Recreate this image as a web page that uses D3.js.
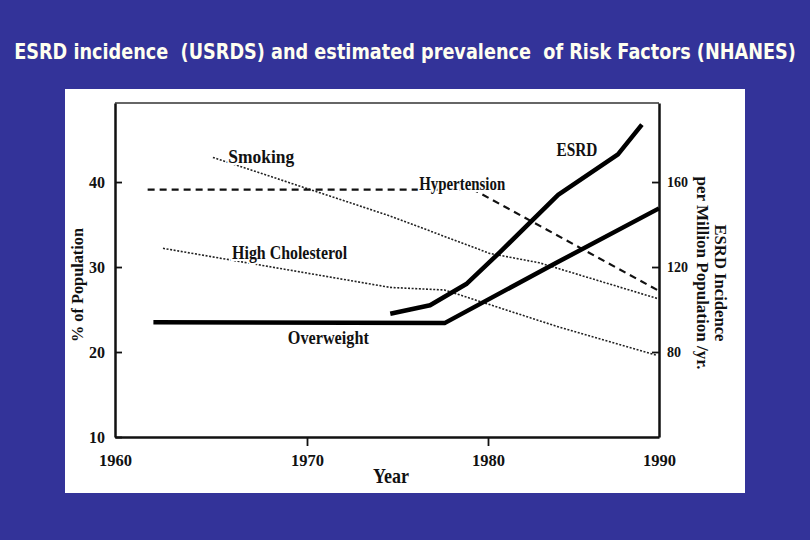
<!DOCTYPE html>
<html>
<head>
<meta charset="utf-8">
<script src="https://cdn.jsdelivr.net/npm/d3@7"></script>
<style>
  html, body { margin: 0; padding: 0; background: #333399; }
  svg { display: block; }
</style>
</head>
<body>
<script>
// values (% of population, left axis)
var smokingYears = [1965.1, 1974.6, 1980.1, 1983.0, 1989.9];
var smokingPct   = [42.9, 36.0, 31.6, 30.5, 26.3];

var cholYears = [1962.5, 1974.6, 1977.6, 1984.2, 1989.9];
var cholPct   = [32.2, 27.6, 27.3, 22.9, 19.6];

var hyperYears = [1961.7, 1979.2, 1989.9];
var hyperPct   = [39.1, 39.1, 27.3];

var overYears = [1962.0, 1977.6, 1984.0, 1990];
var overPct   = [23.5, 23.4, 30.5, 36.9];

// ESRD incidence per million / yr (right axis)
var esrdYears = [1974.6, 1976.8, 1978.8, 1980.7, 1984.1, 1987.6, 1989.0];
var esrdRate  = [98, 102, 112, 127, 154, 173, 187];

var xTicks = [1960, 1970, 1980, 1990];
var leftTicks = [10, 20, 30, 40];
var rightTicks = [80, 120, 160];

var titleText = "ESRD incidence  (USRDS) and estimated prevalence  of Risk Factors (NHANES)";

var width = 810, height = 540;

var svg = d3.select("body").append("svg")
    .attr("width", width)
    .attr("height", height);

svg.append("rect")
    .attr("width", width).attr("height", height)
    .attr("fill", "#333399");

// title: condensed by a horizontal scale so it spans ~13..795
var title = svg.append("text")
    .attr("x", 0).attr("y", 0)
    .attr("text-anchor", "middle")
    .attr("fill", "#fffff0")
    .attr("font-family", "'DejaVu Sans', sans-serif")
    .attr("font-weight", "bold")
    .attr("font-size", 22)
    .style("white-space", "pre")
    .text(titleText);
var tw = title.node().getComputedTextLength();
title.attr("transform", "translate(405,59) scale(" + (782 / tw) + ",1)");

// white scanned panel
svg.append("rect")
    .attr("x", 65).attr("y", 89)
    .attr("width", 680).attr("height", 404)
    .attr("fill", "#fff");

// the scan is slightly uneven, so the year scale goes through the printed ticks
var x = d3.scaleLinear().domain(xTicks).range([115, 307, 488, 659]);
var y = d3.scaleLinear().domain([10, 49.3]).range([437, 103]);
var yR = d3.scaleLinear().domain([40, 197.2]).range([437, 103]);

var serif = "'Liberation Serif', 'Times New Roman', serif";

// top border (faint in the scan)
svg.append("line")
    .attr("x1", x(1960)).attr("x2", x(1990))
    .attr("y1", y(49.3)).attr("y2", y(49.3))
    .attr("stroke", "#333").attr("stroke-width", 1.6);

var gx = svg.append("g")
    .attr("transform", "translate(0," + y(10) + ")")
    .call(d3.axisBottom(x).tickValues(xTicks).tickFormat(d3.format("d"))
        .tickSizeInner(9).tickSizeOuter(0).tickPadding(8));
gx.selectAll(".tick").filter(function(d) { return d === 1960 || d === 1990; })
    .select("line").remove();
gx.selectAll("text").attr("font-size", 17).attr("textLength", 33)
    .attr("lengthAdjust", "spacingAndGlyphs");

var gl = svg.append("g")
    .attr("transform", "translate(" + x(1960) + ",0)")
    .call(d3.axisLeft(y).tickValues(leftTicks)
        .tickSizeInner(-7).tickSizeOuter(0).tickPadding(10));
gl.selectAll("text").attr("font-size", 16).attr("textLength", 16)
    .attr("lengthAdjust", "spacingAndGlyphs");

var gr = svg.append("g")
    .attr("transform", "translate(" + x(1990) + ",0)")
    .call(d3.axisRight(yR).tickValues(rightTicks)
        .tickSizeInner(-7).tickSizeOuter(0).tickPadding(8));
gr.selectAll("text").attr("font-size", 14);

svg.selectAll(".domain").attr("stroke", "#111").attr("stroke-width", 2.5);
svg.selectAll(".tick line").attr("stroke", "#111").attr("stroke-width", 1.8);
svg.selectAll(".tick text")
    .attr("font-family", serif)
    .attr("font-weight", "bold")
    .attr("fill", "#111");

// series
var line = d3.line()
    .x(function(d) { return x(d[0]); })
    .y(function(d) { return d[2](d[1]); });

function pts(years, vals, scale) {
  return years.map(function(yr, i) { return [yr, vals[i], scale]; });
}

var series = [
  {name: "Smoking", data: pts(smokingYears, smokingPct, y), w: 1.6, dash: "2,1.6", col: "#222"},
  {name: "High Cholesterol", data: pts(cholYears, cholPct, y), w: 1.6, dash: "2,1.6", col: "#222"},
  {name: "Hypertension", data: pts(hyperYears, hyperPct, y), w: 2.2, dash: "7,5", col: "#111"},
  {name: "Overweight", data: pts(overYears, overPct, y), w: 4.5, dash: null, col: "#000"},
  {name: "ESRD", data: pts(esrdYears, esrdRate, yR), w: 4.5, dash: null, col: "#000"}
];

svg.selectAll(".series")
    .data(series)
    .enter().append("path")
      .attr("class", "series")
      .attr("d", function(d) { return line(d.data); })
      .attr("fill", "none")
      .attr("stroke", function(d) { return d.col; })
      .attr("stroke-width", function(d) { return d.w; })
      .attr("stroke-dasharray", function(d) { return d.dash; })
      .attr("stroke-linejoin", "round");

// in-plot labels, anchored in data units (year, % of population)
var labels = [
  {text: "Smoking", yr: 1965.9, v: 42.2, len: 66},
  {text: "High Cholesterol", yr: 1966.1, v: 30.9, len: 115},
  {text: "Hypertension", yr: 1976.2, v: 39.1, len: 86},
  {text: "ESRD", yr: 1984.0, v: 43.1, len: 41},
  {text: "Overweight", yr: 1969.0, v: 20.9, len: 81}
];

svg.selectAll(".lbl")
    .data(labels)
    .enter().append("text")
      .attr("class", "lbl")
      .attr("x", function(d) { return x(d.yr); })
      .attr("y", function(d) { return y(d.v); })
      .attr("font-family", serif)
      .attr("font-weight", "bold")
      .attr("font-size", 18)
      .attr("fill", "#111")
      .attr("stroke", "#fff")
      .attr("stroke-width", 4)
      .attr("paint-order", "stroke")
      .attr("textLength", function(d) { return d.len; })
      .attr("lengthAdjust", "spacingAndGlyphs")
      .text(function(d) { return d.text; });

// axis titles
svg.append("text")
    .attr("x", 373).attr("y", 483)
    .attr("font-family", serif).attr("font-weight", "bold")
    .attr("font-size", 21).attr("fill", "#111")
    .attr("textLength", 36).attr("lengthAdjust", "spacingAndGlyphs")
    .text("Year");

svg.append("text")
    .attr("transform", "translate(83,285) rotate(-90)")
    .attr("text-anchor", "middle")
    .attr("font-family", serif).attr("font-weight", "bold")
    .attr("font-size", 17).attr("fill", "#111")
    .attr("textLength", 114).attr("lengthAdjust", "spacingAndGlyphs")
    .text("% of Population");

svg.append("text")
    .attr("transform", "translate(697,273) rotate(90)")
    .attr("text-anchor", "middle")
    .attr("font-family", serif).attr("font-weight", "bold")
    .attr("font-size", 17).attr("fill", "#111")
    .attr("textLength", 193).attr("lengthAdjust", "spacingAndGlyphs")
    .text("per Million Population /yr.");

svg.append("text")
    .attr("transform", "translate(715,283) rotate(90)")
    .attr("text-anchor", "middle")
    .attr("font-family", serif).attr("font-weight", "bold")
    .attr("font-size", 17).attr("fill", "#111")
    .attr("textLength", 117).attr("lengthAdjust", "spacingAndGlyphs")
    .text("ESRD Incidence");
</script>
</body>
</html>
